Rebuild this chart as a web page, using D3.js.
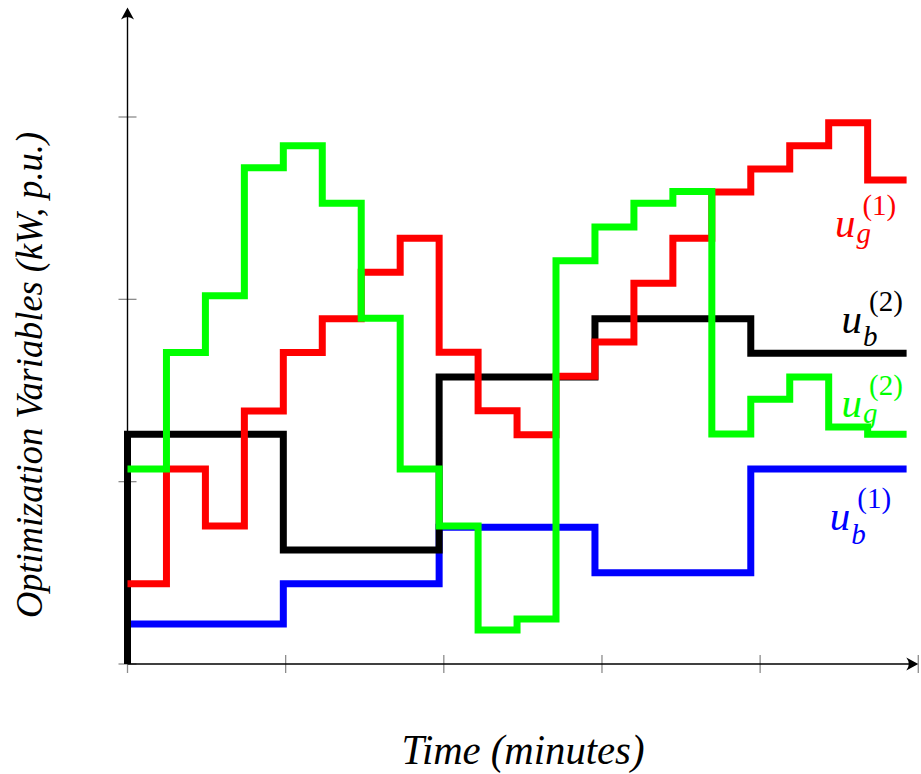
<!DOCTYPE html>
<html>
<head>
<meta charset="utf-8">
<script src="https://cdn.jsdelivr.net/npm/d3@7"></script>
</head>
<body style="margin:0">
<div id="chart"></div>
<script>
// step values, one per time slot (20 slots)
const steps = d3.range(20);
const ubOne = [0.22, 0.22, 0.22, 0.22, 0.44, 0.44, 0.44, 0.44, 0.75, 0.75, 0.75, 0.75, 0.50, 0.50, 0.50, 0.50, 1.07, 1.07, 1.07, 1.07];
const ubTwo = [1.26, 1.26, 1.26, 1.26, 0.625, 0.625, 0.625, 0.625, 1.574, 1.574, 1.574, 1.574, 1.894, 1.894, 1.894, 1.894, 1.704, 1.704, 1.704, 1.704];
const ugOne = [0.44, 1.07, 0.757, 1.388, 1.708, 1.893, 2.149, 2.335, 1.71, 1.389, 1.258, 1.578, 1.766, 2.088, 2.335, 2.589, 2.715, 2.843, 2.968, 2.655];
const ugTwo = [1.07, 1.708, 2.019, 2.721, 2.843, 2.527, 1.896, 1.07, 0.757, 0.187, 0.247, 2.211, 2.397, 2.527, 2.591, 1.262, 1.452, 1.574, 1.30, 1.26];

// tick positions (in time-slot units) and value ticks
const xTicks = [0, 4.06, 8.12, 12.18, 16.24, 20.3];
const yTicks = [0, 1, 2, 3];

const series = [
  { id: "ub1", values: ubOne, color: "#0000ff", start: null },
  { id: "ub2", values: ubTwo, color: "#000000", start: 0 },
  { id: "ug1", values: ugOne, color: "#ff0000", start: null },
  { id: "ug2", values: ugTwo, color: "#00ff00", start: null }
];

// label placement: anchor (slot, value) of the main letter
const labels = [
  { sub: "g", sup: "(1)", color: "#ff0000", ax: 18.16, ay: 2.344, drop: 6 },
  { sub: "b", sup: "(2)", color: "#000000", ax: 18.33, ay: 1.814, drop: 13 },
  { sub: "g", sup: "(2)", color: "#00ff00", ax: 18.33, ay: 1.356, drop: 6 },
  { sub: "b", sup: "(1)", color: "#0000ff", ax: 18.03, ay: 0.735, drop: 14 }
];

const svg = d3.select("#chart").append("svg")
  .attr("width", 921)
  .attr("height", 774)
  .attr("font-family", "Liberation Serif");

const x = d3.scaleLinear().domain([0, 20]).range([127.5, 906.6]);
const y = d3.scaleLinear().domain([0, 3.6]).range([664, 7.6]);

// ticks (gray, crossing the axis)
svg.append("g").selectAll("line")
  .data(xTicks)
  .join("line")
  .attr("x1", d => x(d)).attr("x2", d => x(d))
  .attr("y1", y(0) - 9).attr("y2", y(0) + 9)
  .attr("stroke", "#8c8c8c")
  .attr("stroke-width", 1.3);

svg.append("g").selectAll("line")
  .data(yTicks)
  .join("line")
  .attr("x1", x(0) - 9).attr("x2", x(0) + 9)
  .attr("y1", d => y(d)).attr("y2", d => y(d))
  .attr("stroke", "#8c8c8c")
  .attr("stroke-width", 1.3);

// axes with arrow heads
const xEnd = x(xTicks[xTicks.length - 1]);
const yEnd = y(3.6);
svg.append("line")
  .attr("x1", x(0)).attr("x2", xEnd - 4)
  .attr("y1", y(0)).attr("y2", y(0))
  .attr("stroke", "#000").attr("stroke-width", 1.4);
svg.append("line")
  .attr("x1", x(0)).attr("x2", x(0))
  .attr("y1", y(0)).attr("y2", yEnd + 4)
  .attr("stroke", "#000").attr("stroke-width", 1.4);

const arrow = "M0,0 L-12,-6.5 Q-7,0 -12,6.5 Z";
svg.append("path")
  .attr("d", arrow)
  .attr("transform", `translate(${xEnd},${y(0)})`)
  .attr("fill", "#000");
svg.append("path")
  .attr("d", arrow)
  .attr("transform", `translate(${x(0)},${yEnd}) rotate(-90)`)
  .attr("fill", "#000");

// step lines
const line = d3.line()
  .x(d => x(d[0]))
  .y(d => y(d[1]))
  .curve(d3.curveStepAfter);

series.forEach(s => {
  const pts = steps.map(i => [i, s.values[i]]);
  pts.push([20, s.values[s.values.length - 1]]);
  if (s.start !== null) pts.unshift([0, s.start]);
  svg.append("path")
    .datum(pts)
    .attr("d", line)
    .attr("fill", "none")
    .attr("stroke", s.color)
    .attr("stroke-width", 7)
    .attr("stroke-linejoin", "miter")
    .attr("stroke-linecap", "butt");
});

// math labels u_sub^(sup)
labels.forEach(l => {
  const g = svg.append("g")
    .attr("transform", `translate(${x(l.ax)},${y(l.ay)})`)
    .attr("fill", l.color);
  const u = g.append("text")
    .attr("x", 0).attr("y", 0)
    .attr("font-size", 41)
    .attr("font-style", "italic")
    .text("u");
  const w = u.node().getComputedTextLength();
  g.append("text")
    .attr("x", w + 1).attr("y", l.drop)
    .attr("font-size", 29)
    .attr("font-style", "italic")
    .text(l.sub);
  g.append("text")
    .attr("x", w + 7).attr("y", -22)
    .attr("font-size", 29)
    .text(l.sup);
});

// axis titles
svg.append("text")
  .attr("x", 523).attr("y", 764)
  .attr("text-anchor", "middle")
  .attr("textLength", 243)
  .attr("lengthAdjust", "spacingAndGlyphs")
  .attr("font-style", "italic")
  .attr("font-size", 43)
  .text("Time (minutes)");

svg.append("text")
  .attr("transform", "translate(42,375) rotate(-90)")
  .attr("text-anchor", "middle")
  .attr("textLength", 486)
  .attr("lengthAdjust", "spacingAndGlyphs")
  .attr("font-style", "italic")
  .attr("font-size", 38)
  .text("Optimization Variables (kW, p.u.)");
</script>
</body>
</html>
